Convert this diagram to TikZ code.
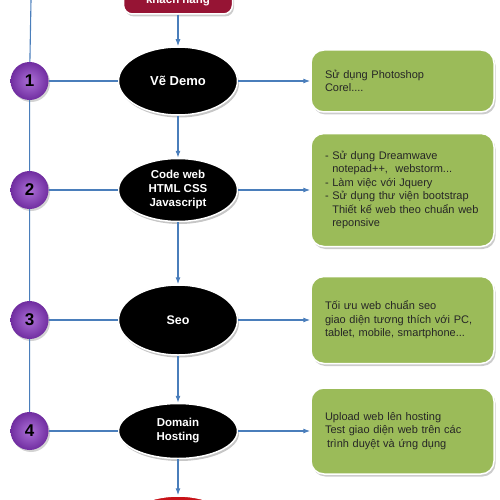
\documentclass[tikz,border=0pt]{standalone}
\usepackage{fontspec}
\setmainfont{Liberation Sans}
\usetikzlibrary{arrows.meta, positioning, shapes.geometric, shadows}
\definecolor{linkblue}{RGB}{74,126,187}
\definecolor{notegreen}{RGB}{155,187,89}
\definecolor{violetin}{RGB}{172,112,215}
\definecolor{violetout}{RGB}{112,45,160}
\definecolor{startred}{RGB}{150,20,52}
\definecolor{finishred}{RGB}{200,18,24}

\begin{document}
\begin{tikzpicture}[x=1pt, y=1pt, >={Latex[length=7pt, width=5pt]},
    link/.style={draw=linkblue, line width=1.1pt},
    phase/.style={ellipse, draw=white, line width=1.5pt, fill=black, text=white, align=center,
        font=\bfseries\fontsize{11.5}{14}\selectfont, minimum width=119pt, inner sep=0pt,
        drop shadow={opacity=0.45, shadow xshift=1.5pt, shadow yshift=-2.5pt}},
    badge/.style={circle, inner color=violetin, outer color=violetout, minimum size=38pt, inner sep=0pt,
        font=\bfseries\fontsize{17}{17}\selectfont,
        drop shadow={opacity=0.35, shadow xshift=1.5pt, shadow yshift=-2pt}},
    note/.style={rectangle, rounded corners=13pt, draw=white, line width=1.5pt, fill=notegreen,
        text width=155pt, inner xsep=14pt, align=left, text=black!85,
        font=\fontsize{11}{13.5}\selectfont,
        drop shadow={opacity=0.4, shadow xshift=1.5pt, shadow yshift=-2.5pt}},
    startbox/.style={rectangle, rounded corners=9pt, draw=white, line width=1.5pt, fill=startred,
        text=white, font=\bfseries\fontsize{11.5}{14}\selectfont, minimum width=109pt,
        text height=30pt, text depth=3pt, inner ysep=7pt,
        drop shadow={opacity=0.4, shadow xshift=1.5pt, shadow yshift=-2.5pt}}]
    \clip (0,0) rectangle (500,-500);
    \node[startbox, anchor=base] (start) at (178,-4) {khách hàng};
    \node[phase, minimum height=68pt, font=\bfseries\fontsize{13}{15}\selectfont] (demo) at (178,-81) {Vẽ Demo};
    \node[phase, minimum height=63pt, below=42pt of demo] (code) {Code web\\HTML CSS\\Javascript};
    \node[phase, minimum height=70pt, below=62pt of code, font=\bfseries\fontsize{12.5}{15}\selectfont] (seo) {Seo};
    \node[phase, minimum height=55pt, below=47pt of seo] (host) {Domain\\Hosting};
    \node[phase, fill=finishred, minimum height=70pt, below=36pt of host] (finish) {};

    \node[badge, left=69pt of demo] (n1) {1};
    \node[badge, left=69pt of code] (n2) {2};
    \node[badge, left=69pt of seo] (n3) {3};
    \node[badge, left=69pt of host] (n4) {4};

    \node[note, right=72pt of demo, minimum height=62pt] (info1)
        {Sử dụng Photoshop\\Corel....};
    \node[note, right=72pt of code, minimum height=113pt] (info2)
        {- Sử dụng Dreamwave\\
         \phantom{- }notepad++,\ \ webstorm...\\
         - Làm việc với Jquery\\
         - Sử dụng thư viện bootstrap\\
         \phantom{- }Thiết kế web theo chuẩn web\\
         \phantom{- }reponsive};
    \node[note, right=72pt of seo, minimum height=87pt] (info3)
        {Tối ưu web chuẩn seo\\giao diện tương thích với PC,\\tablet, mobile, smartphone...};
    \node[note, right=72pt of host, minimum height=86pt] (info4)
        {Upload web lên hosting\\Test giao diện web trên các\\\hspace*{2pt}trình duyệt và ứng dụng};

    \coordinate (spine) at (31,0);
    \draw[link] (spine) -- (n1) -- (n2) -- (n3) -- (n4);
    \foreach \i/\s in {1/demo, 2/code, 3/seo, 4/host}
        \draw[link] (n\i) -- (\s);
    \foreach \s/\t in {start/demo, demo/code, code/seo, seo/host, host/finish}
        \draw[link, ->] (\s) -- (\t);
    \foreach \s/\t in {demo/info1, code/info2, seo/info3, host/info4}
        \draw[link, ->] (\s) -- (\t);
\end{tikzpicture}
\end{document}
